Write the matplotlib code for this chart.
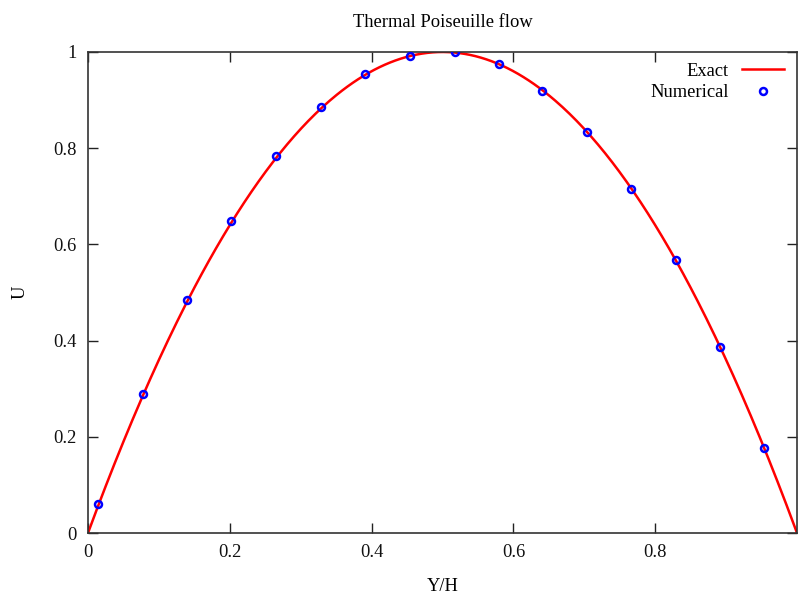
import numpy as np
import matplotlib
matplotlib.use("Agg")
import matplotlib.pyplot as plt

plt.rcParams['font.family'] = ['Liberation Serif', 'DejaVu Serif']

# Numerical data
num_x = [0.0141, 0.0775, 0.139, 0.201, 0.265, 0.328, 0.390, 0.4535,
         0.517, 0.579, 0.641, 0.704, 0.766, 0.830, 0.8915, 0.9535]
num_u = [0.060, 0.289, 0.484, 0.649, 0.784, 0.886, 0.954, 0.992,
         1.000, 0.975, 0.919, 0.834, 0.715, 0.568, 0.387, 0.177]

x_ticks = [0, 0.2, 0.4, 0.6, 0.8]
x_labels = ["0", "0.2", "0.4", "0.6", "0.8"]
y_ticks = [0, 0.2, 0.4, 0.6, 0.8, 1]
y_labels = ["0", "0.2", "0.4", "0.6", "0.8", "1"]

FS = 13.3

fig = plt.figure(figsize=(7.98, 5.96), dpi=100)
ax = fig.add_axes([88/798, 63/596, 709/798, 481/596])

xe = np.linspace(0, 1, 400)
ue = 4 * xe * (1 - xe)
ax.plot(xe, ue, color='#ff0000', lw=1.8, label='Exact', zorder=2)
ax.plot(num_x, num_u, linestyle='none', marker='o', ms=5, mfc='none',
        mec='#0000ff', mew=1.8, label='Numerical', zorder=3)

ax.set_xlim(0, 1)
ax.set_ylim(0, 1)
ax.set_xticks(x_ticks)
ax.set_xticklabels(x_labels)
ax.set_yticks(y_ticks)
ax.set_yticklabels(y_labels)
ax.tick_params(direction='in', top=True, right=True, length=7, width=1,
               labelsize=FS, pad=8, colors='#222222', labelcolor='#111111')
for s in ax.spines.values():
    s.set_linewidth(1.2)
    s.set_color('#333333')

ax.set_xlabel('Y/H', fontsize=FS, labelpad=12)
ax.set_ylabel('U', fontsize=FS, labelpad=18, rotation=90)
ax.set_title('Thermal Poiseuille flow', fontsize=FS, pad=18)

leg = ax.legend(loc='upper right', frameon=False, markerfirst=False,
                fontsize=FS, handlelength=2.3, handletextpad=0.7,
                borderaxespad=0.3, labelspacing=0.25,
                bbox_to_anchor=(1.0, 1.005))

fig.savefig('out.png', dpi=100)
